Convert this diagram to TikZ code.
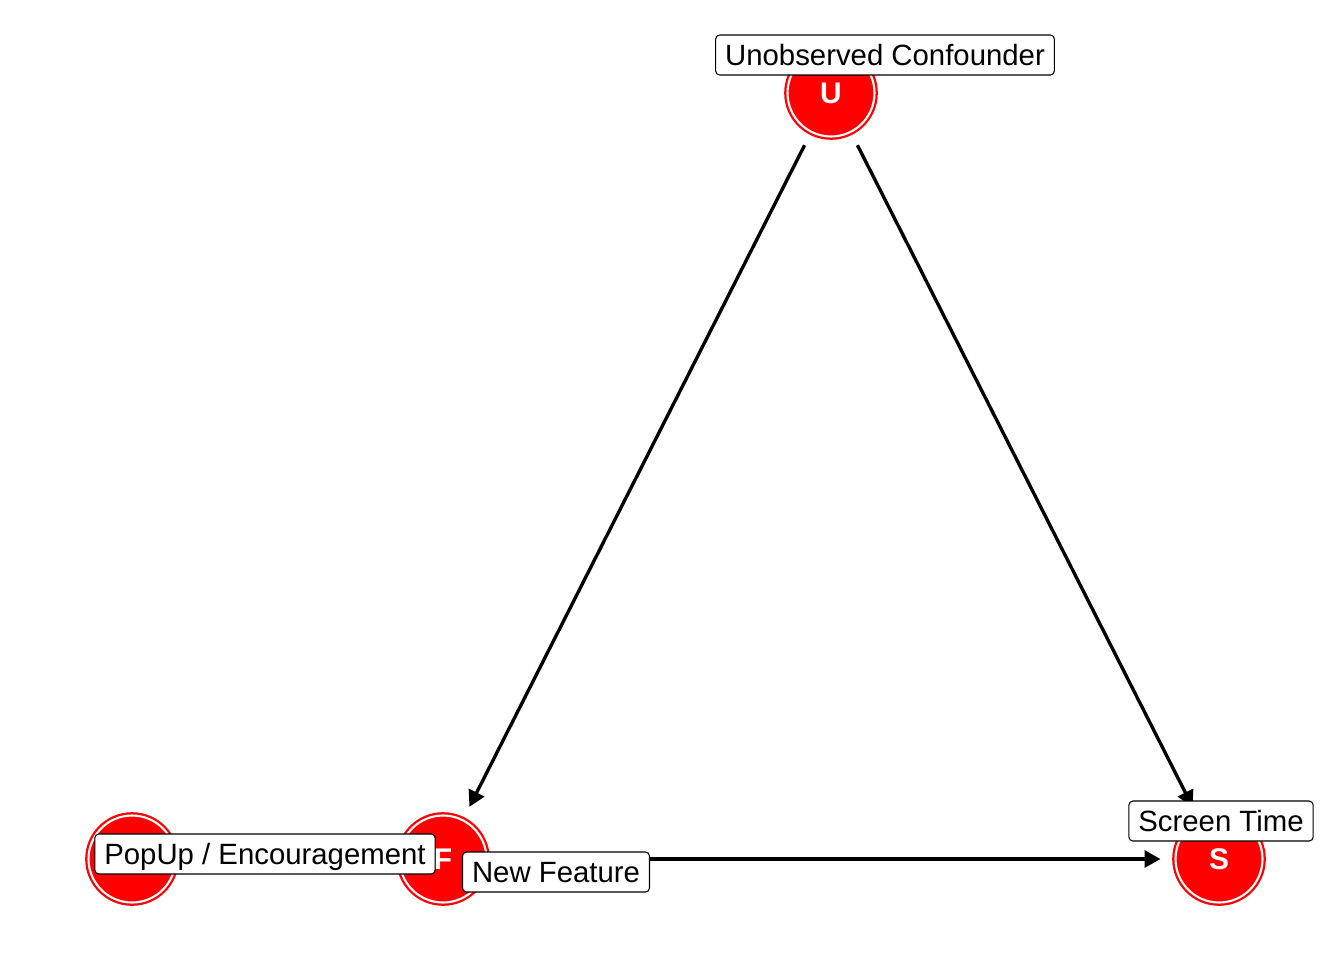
\documentclass[tikz,border=0pt]{standalone}
\usepackage{fontspec}
\setmainfont{Liberation Sans}
\usetikzlibrary{arrows.meta}
\begin{document}
\begin{tikzpicture}[x=0.02cm, y=-0.02cm,
		dagnode/.style={circle, fill=red, draw=red, line width=1.3pt, double=white, double distance=1.2pt, minimum size=1.74cm, inner sep=0pt, outer sep=0.3cm, text=white, font=\fontsize{17}{20}\selectfont\bfseries},
		daglabel/.style={draw, fill=white, rounded corners=0.08cm, line width=0.6pt, inner xsep=0.19cm, inner ysep=0pt, minimum height=0.8cm, text height=13pt, text depth=1.6pt, font=\fontsize{16.7}{20}\selectfont},
		dagedge/.style={line width=1.9pt, -{Triangle[length=0.32cm, width=0.34cm]}}]
		\useasboundingbox (0, 0) rectangle (1344, 960);
		\node[dagnode] (U) at (831, 93) {U};
		\node[dagnode] (P) at (132, 859) {};
		\node[dagnode] (F) at (443, 859) {F};
		\node[dagnode] (S) at (1219, 859) {S};
		\draw[dagedge] (U) -- (F);
		\draw[dagedge] (U) -- (S);
		\draw[dagedge] (F) -- (S);
		\node[daglabel] (Ulab) at (885, 55) {Unobserved Confounder};
		\node[daglabel] (Plab) at (265, 854) {PopUp / Encouragement};
		\node[daglabel] (Flab) at (556, 872) {New Feature};
		\node[daglabel] (Slab) at (1221, 821) {Screen Time};
	\end{tikzpicture}
\end{document}
